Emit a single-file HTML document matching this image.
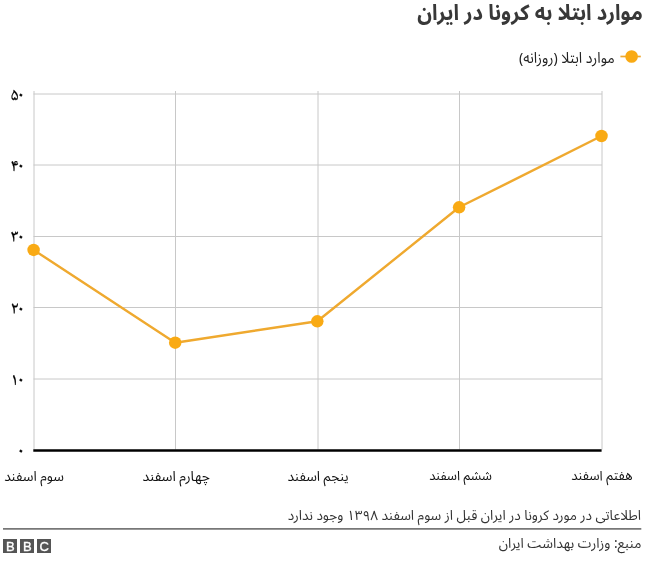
<!DOCTYPE html>
<html lang="fa">
<head>
<meta charset="utf-8">
<title>موارد ابتلا به کرونا در ایران</title>
<style>
html,body{margin:0;padding:0;background:#fff;}
body{width:650px;height:564px;position:relative;overflow:hidden;
  font-family:"Noto Sans Arabic","Vazirmatn","DejaVu Sans","Liberation Sans",sans-serif;color:#222;}
.t{position:absolute;white-space:nowrap;direction:rtl;line-height:1;}
#title{right:7.2px;top:3.8px;font-size:20.6px;transform:scale(0.982,1.06);transform-origin:100% 50%;font-weight:bold;color:#383838;}
#legend{right:35.3px;top:51.5px;font-size:14.1px;color:#222;transform:scaleY(1.08);transform-origin:100% 50%;}
.xl{position:absolute;top:469.5px;width:120px;margin-left:-60px;text-align:center;font-size:13.6px;color:#111;line-height:1;white-space:nowrap;direction:rtl;}
.z{margin-left:-1.7px;position:relative;top:-0.9px;}
.yl{position:absolute;right:625.3px;font-family:"Noto Naskh Arabic","Noto Sans Arabic","DejaVu Sans",sans-serif;font-size:17.5px;font-weight:normal;color:#000;-webkit-text-stroke:0.25px #000;line-height:1;direction:ltr;}
#note{right:9px;top:509px;font-size:13.6px;color:#333;}
#src{right:8.6px;top:536.6px;font-size:13.7px;color:#333;}
.bbc{position:absolute;top:539px;width:14px;height:14px;background:#555;color:#fff;
  font:normal 13px/15px "Liberation Sans",sans-serif;padding-left:0.5px;box-sizing:border-box;-webkit-text-stroke:0.35px #fff;text-align:center;direction:ltr;}
svg{position:absolute;left:0;top:0;}
</style>
</head>
<body>
<div class="t" id="title">موارد ابتلا به کرونا در ایران</div>
<div class="t" id="legend">موارد ابتلا (روزانه)</div>

<svg width="650" height="564" viewBox="0 0 650 564">
  <g stroke="#c8c8c8" stroke-width="1" fill="none">
    <line x1="34" y1="91" x2="34" y2="449.5"/>
    <line x1="175.5" y1="91" x2="175.5" y2="449.5"/>
    <line x1="318" y1="91" x2="318" y2="449.5"/>
    <line x1="459.5" y1="91" x2="459.5" y2="449.5"/>
    <line x1="602" y1="91" x2="602" y2="449.5"/>
    <line x1="33.5" y1="94" x2="602" y2="94"/>
    <line x1="33.5" y1="165" x2="602" y2="165"/>
    <line x1="33.5" y1="236.5" x2="602" y2="236.5"/>
    <line x1="33.5" y1="307.5" x2="602" y2="307.5"/>
    <line x1="33.5" y1="379" x2="602" y2="379"/>
  </g>
  <line x1="33.3" y1="450.5" x2="601.6" y2="450.5" stroke="#000" stroke-width="2.5"/>
  <polyline points="33.6,249.9 175.2,342.7 317.3,321.3 459.1,207.3 601.5,136" fill="none" stroke="#EFA92F" stroke-width="2.4" stroke-linejoin="round"/>
  <g fill="#F9AA14">
    <circle cx="33.6" cy="249.9" r="6.25"/>
    <circle cx="175.2" cy="342.7" r="6.25"/>
    <circle cx="317.3" cy="321.3" r="6.25"/>
    <circle cx="459.1" cy="207.3" r="6.25"/>
    <circle cx="601.5" cy="136" r="6.25"/>
  </g>
  <line x1="3" y1="528.9" x2="641.3" y2="528.9" stroke="#777" stroke-width="1.6"/>
  <line x1="620.4" y1="56.5" x2="640.8" y2="56.5" stroke="#EFA92F" stroke-width="1.7"/>
  <circle cx="631.6" cy="56.5" r="6.3" fill="#F9AA14"/>
</svg>

<div class="yl" style="top:87.7px">۵<span class="z">۰</span></div>
<div class="yl" style="top:158.7px">۴<span class="z">۰</span></div>
<div class="yl" style="top:230px">۳<span class="z">۰</span></div>
<div class="yl" style="top:301.7px">۲<span class="z">۰</span></div>
<div class="yl" style="top:372.7px">۱<span class="z">۰</span></div>
<div class="yl" style="top:443px">۰</div>

<div class="xl" style="left:34px">سوم اسفند</div>
<div class="xl" style="left:176.2px;font-size:13.9px">چهارم اسفند</div>
<div class="xl" style="left:318.1px">ینجم اسفند</div>
<div class="xl" style="left:460.5px;font-size:12.95px">ششم اسفند</div>
<div class="xl" style="left:601.9px;font-size:13.2px">هفتم اسفند</div>

<div class="t" id="note">اطلاعاتی در مورد کرونا در ایران قبل از سوم اسفند ۱۳۹۸ وجود ندارد</div>
<div class="bbc" style="left:3px">B</div>
<div class="bbc" style="left:20px">B</div>
<div class="bbc" style="left:37px">C</div>
<div class="t" id="src">منبع: وزارت بهداشت ایران</div>
</body>
</html>
